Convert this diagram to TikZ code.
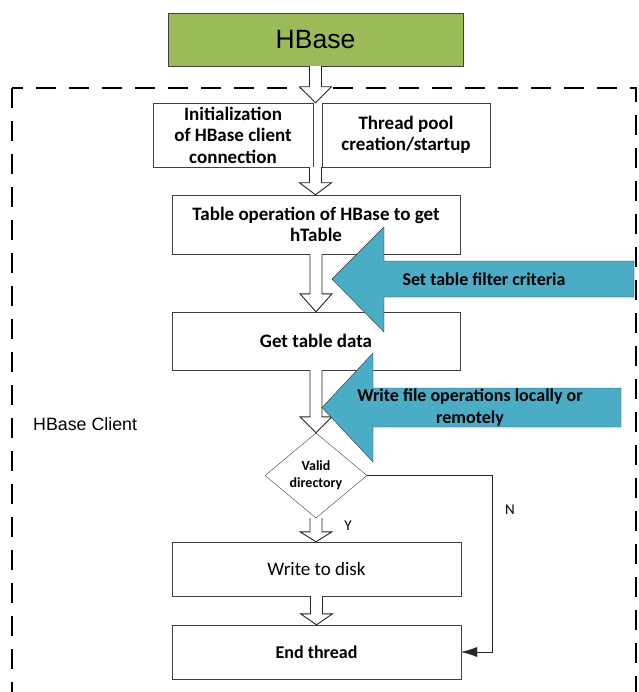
\documentclass[tikz,border=0pt]{standalone}
\usepackage{fontspec}
\setmainfont{Carlito}
\newfontfamily\arialfont{Liberation Sans}
\usetikzlibrary{arrows.meta,shapes.geometric,calc}

\definecolor{hbgreen}{HTML}{9BBB59}
\definecolor{hbblue}{HTML}{4BACC6}

\tikzset{
  box/.style={draw=black!75, align=center, inner sep=1pt,
    font=\bfseries\fontsize{19}{21.5}\selectfont},
  hollow/.style={draw=black!85, line width=0.9pt, fill=white,
    to path={let \p1=(\tikztostart), \p2=(\tikztotarget) in
      (\x1-6pt,\y1) -- (\x1-6pt,\y2+#1pt) -- (\x1-16pt,\y2+#1pt) -- (\x1,\y2)
      -- (\x1+16pt,\y2+#1pt) -- (\x1+6pt,\y2+#1pt) -- (\x1+6pt,\y1)}},
  hollow/.default=12,
  bluearrow/.style={draw=black!80, fill=hbblue},
  bluetext/.style={align=center, inner sep=0pt, font=\bfseries\fontsize{18}{22}\selectfont},
  frame/.style={line width=2.5pt, dash pattern=on 20pt off 13pt},
}

\begin{document}
\begin{tikzpicture}[x=1pt,y=-1pt]
\clip (0,0) rectangle (638,692);

% client frame
\draw[frame] (12,88) rectangle (636,740);
\node[anchor=west, inner sep=0pt, font=\arialfont\fontsize{17.8}{21}\selectfont] (client) at (33,424) {HBase Client};

% boxes
\node[box, fill=hbgreen, font=\arialfont\fontsize{26.5}{30}\selectfont, minimum width=295pt, minimum height=53pt] (hbase) at (315.5,39.5) {HBase};
\node[box, minimum width=160pt, minimum height=64pt] (init) at (233,135) {Initialization\\of HBase client\\connection};
\node[box, minimum width=168pt, minimum height=64pt] (pool) at (406,135) {Thread pool\\creation/startup};
\node[box, minimum width=288pt, minimum height=59pt] (table) at (316,224.5) {Table operation of HBase to get\\hTable};
\node[box, minimum width=288pt, minimum height=58pt] (getdata) at (316,341) {Get table data};
\node[diamond, draw=black!75, minimum width=102pt, minimum height=85pt, inner sep=0pt, aspect=1.2, align=center,
  font=\bfseries\fontsize{14}{17}\selectfont] (valid) at (316,475.5) {Valid\\directory};
\node[box, font=\fontsize{19}{21.5}\selectfont, minimum width=289pt, minimum height=54pt] (write) at (316.5,569) {Write to disk};
\node[box, font=\bfseries\fontsize{18}{21}\selectfont, minimum width=289pt, minimum height=54pt] (endthr) at (316.5,652) {End thread};

% flow
\draw[hollow=16] (hbase.south) to (hbase.south |- init.north);
\draw[hollow=12] (hbase.south |- init.south) to (table.north);
\draw[hollow=18] (table.south) to (getdata.north);
\draw[hollow=16] (getdata.south) to (valid.north);
\draw[hollow=10] (valid.south) to (write.north);
\draw[hollow=11] (write.south) to (endthr.north);

\coordinate (nturn) at (492,475.5);
\draw[black!85, -{Latex[length=16pt,width=10pt]}] (valid.east) -- (nturn) |- (endthr.east);
\node[font=\fontsize{15}{17}\selectfont] (ylab) at (348,526) {Y};
\node[font=\fontsize{15}{17}\selectfont] (nlab) at (510,510) {N};

% side inputs
\draw[bluearrow] (332,279) -- (384,227) -- (384,261) -- (634,261) -- (634,297) -- (384,297) -- (384,332) -- cycle;
\node[bluetext] (filtertxt) at (484,279) {Set table filter criteria};
\draw[bluearrow] (322,407.5) -- (373,353) -- (373,388) -- (621,388) -- (621,427) -- (373,427) -- (373,462) -- cycle;
\node[bluetext] (writetxt) at (470,408) {Write file operations locally or\\remotely};
\end{tikzpicture}
\end{document}
